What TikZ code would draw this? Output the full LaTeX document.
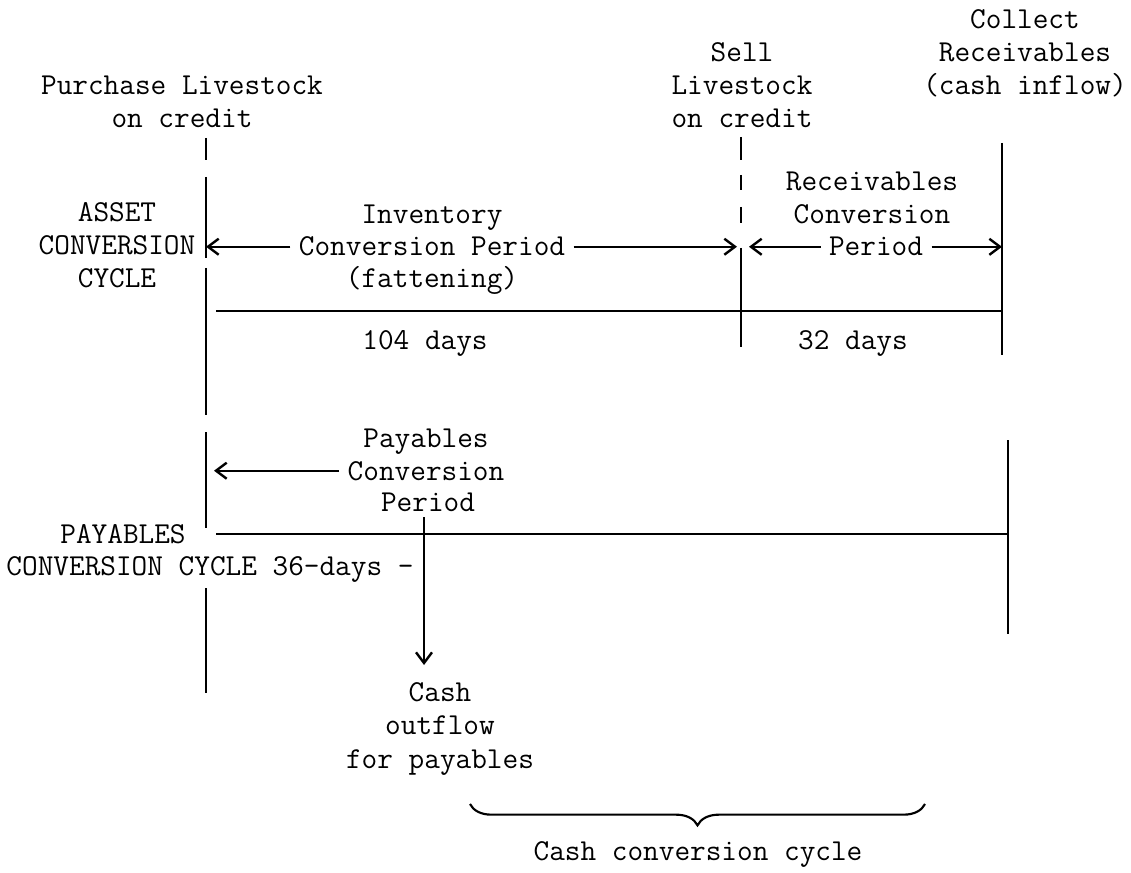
\documentclass[tikz,border=0pt]{standalone}
\usepackage{tikz}
\usetikzlibrary{arrows.meta,decorations.pathreplacing}

\begin{document}
\begin{tikzpicture}[
  x=0.375pt, y=-0.375pt,
  txt/.style={
    font=\ttfamily\fontsize{11.4}{12.5}\selectfont,
    inner sep=0pt, align=center, anchor=base
  },
  tline/.style={line width=0.9pt},
  arr/.style={tline, -{Straight Barb[length=4pt,width=6pt]}}
]
  \useasboundingbox (0,0) rectangle (1131,873);
  % time marks
  \coordinate (buy) at (206,0);
  \coordinate (sell) at (741,0);
  \coordinate (coll) at (1002,0);
  \coordinate (paid) at (1008,0);

  % event labels (placed at the last baseline)
  \node[txt] (purchase) at (182,128) {Purchase Livestock\\on credit};
  \node[txt] (selllbl) at (742,128) {Sell\\Livestock\\on credit};
  \node[txt] (collect) at (1025,95) {Collect\\Receivables\\(cash inflow)};

  % asset conversion cycle
  \node[txt] (asset) at (117,288) {ASSET\\CONVERSION\\CYCLE};
  \node[txt] (inv) at (432,224) {Inventory};
  \node[txt] (icp) at (432,256) {Conversion Period};
  \node[txt] (fat) at (432,288) {(fattening)};
  \node[txt] (rcv) at (872,224) {Receivables\\Conversion};
  \node[txt] (rcp) at (876,256) {Period};
  \node[txt] (d104) at (425,350) {104 days};
  \node[txt] (d32) at (853,350) {32 days};

  % payables conversion cycle
  \node[txt] (pay) at (426,447) {Payables};
  \node[txt] (pcp) at (426,480) {Conversion};
  \node[txt] (pper) at (428,511) {Period};
  \node[txt] (pcc1) at (123,543) {PAYABLES};
  \node[txt] (pcc2) at (210,575) {CONVERSION CYCLE 36-days -};
  \node[txt] (cash) at (440,768) {Cash\\outflow\\for payables};
  \node[txt] (ccc) at (698,860) {Cash conversion cycle};

  % vertical lines
  \foreach \a/\b in {138/160,177/258,268/415,432/528,588/693}
    \draw[tline] (206,\a) -- (206,\b);
  \foreach \a/\b in {137/160,175/190,207/223,248/347}
    \draw[tline] (741,\a) -- (741,\b);
  \draw[tline] (1002,143) -- (1002,355);
  \draw[tline] (1008,440) -- (1008,634);

  % horizontal lines
  \draw[tline] (216,311) -- (1002,311);
  \draw[tline] (216,534) -- (1008,534);

  % periods
  \draw[arr, shorten <=3pt] (icp.west) -- (icp.west -| buy);
  \draw[arr, shorten <=3pt, shorten >=1.5pt] (icp.east) -- (icp.east -| sell);
  \draw[arr, shorten <=3pt, shorten >=3pt] (rcp.west) -- (rcp.west -| sell);
  \draw[arr, shorten <=3pt] (rcp.east) -- (rcp.east -| coll);
  \draw[arr, shorten <=3pt, shorten >=3pt] (pcp.west) -- (pcp.west -| buy);

  \coordinate (out) at (424,517);
  \coordinate (outtip) at (424,665);
  \draw[arr] (out) -- (outtip);

  \coordinate (ccR) at (925,804);
  \coordinate (ccL) at (470,804);
  \draw[line width=0.8pt, decorate, decoration={brace, amplitude=8pt}] (ccR) -- (ccL);
\end{tikzpicture}
\end{document}
